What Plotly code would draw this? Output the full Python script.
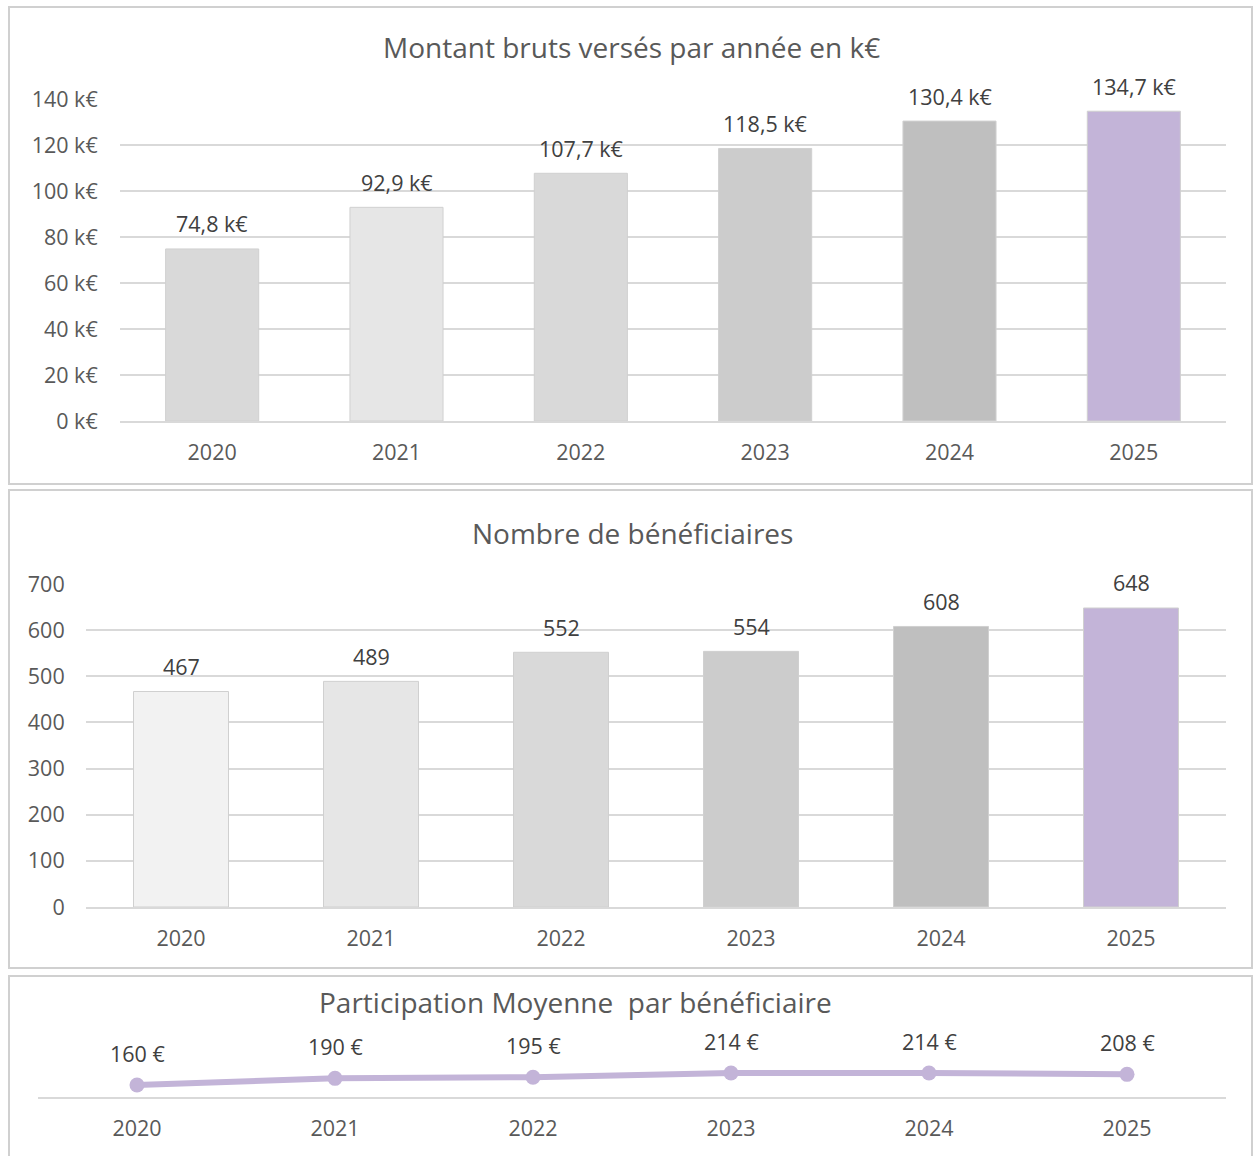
import plotly.graph_objects as go

years = ["2020", "2021", "2022", "2023", "2024", "2025"]
montants = [74.8, 92.9, 107.7, 118.5, 130.4, 134.7]
montant_labels = ["74,8 k€", "92,9 k€", "107,7 k€", "118,5 k€", "130,4 k€", "134,7 k€"]
beneficiaires = [467, 489, 552, 554, 608, 648]
participation = [160, 190, 195, 214, 214, 208]
participation_labels = ["160 €", "190 €", "195 €", "214 €", "214 €", "208 €"]
y1_ticks = [0, 20, 40, 60, 80, 100, 120, 140]
y1_ticklabels = ["0 k€", "20 k€", "40 k€", "60 k€", "80 k€", "100 k€", "120 k€", "140 k€"]
y2_ticks = [0, 100, 200, 300, 400, 500, 600, 700]

colors1 = ["#D9D9D9", "#E6E6E6", "#D9D9D9", "#CCCCCC", "#BFBFBF", "#C3B4D8"]
colors2 = ["#F2F2F2", "#E6E6E6", "#D9D9D9", "#CCCCCC", "#BFBFBF", "#C3B4D8"]

W, H = 1254, 1156
FONT = "Open Sans"
GRID = "#D9D9D9"
TXT = "#595959"
LBL = "#404040"
FS = 21.5
TFS = 28

def py(p):
    return (H - p) / H

def px(p):
    return p / W

fig = go.Figure()

fig.add_trace(go.Bar(x=years, y=montants, marker=dict(color=colors1, line=dict(color="#D0D0D0", width=1)),
                     width=0.505, xaxis="x", yaxis="y", hoverinfo="skip"))
fig.add_trace(go.Bar(x=years, y=beneficiaires, marker=dict(color=colors2, line=dict(color="#D0D0D0", width=1)),
                     width=0.5, xaxis="x2", yaxis="y2", hoverinfo="skip"))
fig.add_trace(go.Scatter(x=years, y=participation, mode="lines+markers",
                         line=dict(color="#C3B4D8", width=6), marker=dict(color="#C3B4D8", size=15),
                         xaxis="x3", yaxis="y3", hoverinfo="skip", cliponaxis=False))

annotations = []
# category axes: annotation x given as category index
for i, (v, t) in enumerate(zip(montants, montant_labels)):
    annotations.append(dict(x=i, y=v, xref="x", yref="y", text=t, showarrow=False,
                            yanchor="middle", yshift=25, font=dict(family=FONT, size=FS, color=LBL)))
for i, v in enumerate(beneficiaires):
    annotations.append(dict(x=i, y=v, xref="x2", yref="y2", text=str(v), showarrow=False,
                            yanchor="middle", yshift=25, font=dict(family=FONT, size=FS, color=LBL)))
for i, (v, t) in enumerate(zip(participation, participation_labels)):
    annotations.append(dict(x=i, y=v, xref="x3", yref="y3", text=t, showarrow=False,
                            yanchor="middle", yshift=32, font=dict(family=FONT, size=FS, color=LBL)))

titles = [("Montant bruts versés par année en k€", 47, 631), ("Nombre de bénéficiaires", 533, 632),
          ("Participation Moyenne  par bénéficiaire", 1002, 575)]
for t, yp, xp in titles:
    annotations.append(dict(x=px(xp), y=py(yp), xref="paper", yref="paper", text=t, showarrow=False,
                            xanchor="center", yanchor="middle", font=dict(family=FONT, size=TFS, color=TXT)))

shapes = []
for (y0, y1) in [(7, 484), (490, 968), (976, 1170)]:
    shapes.append(dict(type="rect", xref="paper", yref="paper", x0=px(9), x1=px(1252), y0=py(y1), y1=py(y0),
                       line=dict(color="#D0D0D0", width=2), fillcolor="rgba(0,0,0,0)", layer="below"))

xcommon = dict(type="category", showgrid=False, showline=True, linecolor=GRID, linewidth=2,
               ticks="outside", ticklen=11, tickcolor="rgba(0,0,0,0)",
               tickfont=dict(family=FONT, size=FS, color=TXT), fixedrange=True,
               range=[-0.5, len(years) - 0.5], autorange=False, automargin=False)

p3_bottom, p3_top = 1097, 1030
scale3 = 12 / 54.0
y3_min = 160 - (1097 - 1085) / scale3
y3_max = y3_min + (p3_bottom - p3_top) / scale3

fig.update_layout(
    width=W, height=H, margin=dict(l=0, r=0, t=0, b=0, pad=0, autoexpand=False),
    paper_bgcolor="white", plot_bgcolor="white", showlegend=False,
    font=dict(family=FONT, color=TXT),
    xaxis=dict(domain=[px(120), px(1226)], anchor="y", **xcommon),
    yaxis=dict(domain=[py(421), py(99)], anchor="x", range=[0, 140], tickvals=y1_ticks, ticktext=y1_ticklabels,
               showgrid=True, gridcolor=GRID, gridwidth=2, zeroline=False, showline=False,
               ticks="outside", ticklen=17, tickcolor="rgba(0,0,0,0)", automargin=False,
               tickfont=dict(family=FONT, size=FS, color=TXT), fixedrange=True),
    xaxis2=dict(domain=[px(86), px(1226)], anchor="y2", **xcommon),
    yaxis2=dict(domain=[py(907), py(584)], anchor="x2", range=[0, 700], tickvals=y2_ticks,
                showgrid=True, gridcolor=GRID, gridwidth=2, zeroline=False, showline=False,
                ticks="outside", ticklen=16, tickcolor="rgba(0,0,0,0)", automargin=False,
                tickfont=dict(family=FONT, size=FS, color=TXT), fixedrange=True),
    xaxis3=dict(domain=[px(38), px(1226)], anchor="y3", **xcommon),
    yaxis3=dict(domain=[py(p3_bottom), py(p3_top)], anchor="x3", range=[y3_min, y3_max],
                visible=False, fixedrange=True, automargin=False),
    annotations=annotations, shapes=shapes,
)

post = ("document.body.style.margin='0';document.body.style.overflow='hidden';"
        "var d=document.getElementById('{plot_id}');d.style.position='absolute';"
        "d.style.top='0px';d.style.left='0px';")
fig.write_html("out.html", post_script=post, config={"displayModeBar": False})
